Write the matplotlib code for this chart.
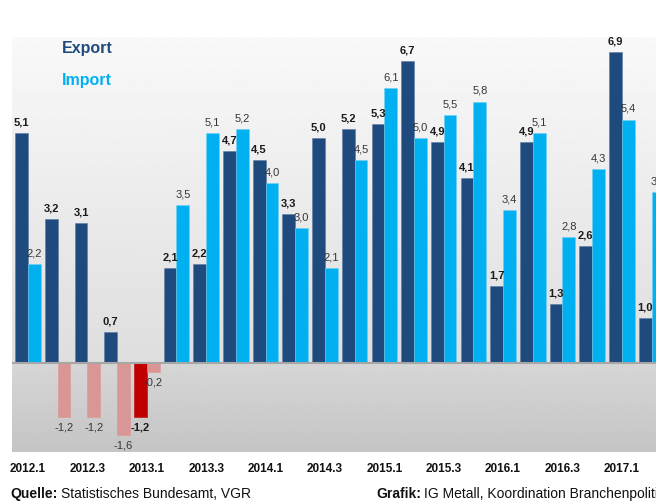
import matplotlib
matplotlib.use("Agg")
import matplotlib.pyplot as plt
import numpy as np

plt.rcParams['font.family'] = ['Liberation Sans', 'DejaVu Sans']

quarters = ["2012.1", "2012.2", "2012.3", "2012.4", "2013.1", "2013.2", "2013.3", "2013.4",
            "2014.1", "2014.2", "2014.3", "2014.4", "2015.1", "2015.2", "2015.3", "2015.4",
            "2016.1", "2016.2", "2016.3", "2016.4", "2017.1", "2017.2"]
export_vals = [5.1, 3.2, 3.1, 0.7, -1.2, 2.1, 2.2, 4.7, 4.5, 3.3, 5.0, 5.2,
               5.3, 6.7, 4.9, 4.1, 1.7, 4.9, 1.3, 2.6, 6.9, 1.0]
import_vals = [2.2, -1.2, -1.2, -1.6, -0.2, 3.5, 5.1, 5.2, 4.0, 3.0, 2.1, 4.5,
               6.1, 5.0, 5.5, 5.8, 3.4, 5.1, 2.8, 4.3, 5.4, 3.8]
tick_labels = quarters[::2]

C_EXP = '#1F4A7E'
C_IMP = '#00B0F0'
C_EXP_NEG = '#C00000'
C_IMP_NEG = '#DA9694'

W, H = 656, 501
fig = plt.figure(figsize=(W / 100, H / 100), dpi=100)
ax = fig.add_axes([12 / W, (H - 452) / H, (W - 12) / W, (452 - 37) / H])

xmin, xmax = -0.54, 21.15
ymin, ymax = -1.97, 7.23
ax.set_xlim(xmin, xmax)
ax.set_ylim(ymin, ymax)

# background gradient
n = 400
ys = np.linspace(ymax, ymin, n)
vals = np.where(ys >= 0,
                0.975 - (ymax - ys) / ymax * (0.975 - 0.87),
                0.84 - (-ys) / (-ymin) * (0.84 - 0.77))
grad = np.repeat(vals[:, None], 2, axis=1)
ax.imshow(grad, cmap='gray', vmin=0, vmax=1, aspect='auto',
          extent=(xmin, xmax, ymin, ymax), zorder=0, interpolation='bilinear')

bw = 0.43
x = np.arange(len(quarters))
exp_colors = [C_EXP if v >= 0 else C_EXP_NEG for v in export_vals]
imp_colors = [C_IMP if v >= 0 else C_IMP_NEG for v in import_vals]
exp_edges = ['#5a7aa3' if v >= 0 else C_EXP_NEG for v in export_vals]
imp_edges = ['#6fd0f5' if v >= 0 else C_IMP_NEG for v in import_vals]
ax.bar(x - bw / 2, export_vals, width=bw, color=exp_colors, zorder=2,
       edgecolor=exp_edges, linewidth=0.4)
ax.bar(x + bw / 2, import_vals, width=bw, color=imp_colors, zorder=2,
       edgecolor=imp_edges, linewidth=0.4)
ax.axhline(0, color='#A6A6A6', lw=1.5, zorder=3)

def fmt(v):
    return f"{v:.1f}".replace('.', ',')

for xi, v in zip(x, export_vals):
    up = v >= 0
    ax.annotate(fmt(v), (xi - bw / 2, v), xytext=(0, 4 if up else -4), textcoords='offset points',
                ha='center', va='bottom' if up else 'top', fontsize=8, fontweight='bold',
                color='#1a1a1a', annotation_clip=False, zorder=4)
for xi, v in zip(x, import_vals):
    up = v >= 0
    ax.annotate(fmt(v), (xi + bw / 2, v), xytext=(0, 4 if up else -4), textcoords='offset points',
                ha='center', va='bottom' if up else 'top', fontsize=8,
                color='#363636', annotation_clip=False, zorder=4)

ax.set_xticks(x[::2])
ax.set_xticklabels(tick_labels, fontsize=8.5, fontweight='bold', color='#111111')
ax.tick_params(axis='x', length=0, pad=8)
ax.set_yticks([])
for s in ax.spines.values():
    s.set_visible(False)

# legend texts
fig.text(62 / W, 1 - 49 / H, "Export", fontsize=11.5, fontweight='bold', color=C_EXP,
         ha='left', va='center')
fig.text(62 / W, 1 - 80 / H, "Import", fontsize=11.5, fontweight='bold', color=C_IMP,
         ha='left', va='center')

# cut-off title at top
fig.text(118 / W, 1 + 9 / H, "(Veränderung gegenüber Vorjahresquartal in %)", fontsize=10,
         color='#666666', ha='left', va='center')

# footer
renderer = fig.canvas.get_renderer()

def two_part(x0, y0, bold, rest, size=10):
    t = fig.text(x0 / W, 1 - y0 / H, bold, fontsize=size, fontweight='bold', color='#111111',
                 ha='left', va='center')
    bb = t.get_window_extent(renderer=renderer)
    fig.text((bb.x1 + 3.5) / W, 1 - y0 / H, rest, fontsize=size, color='#111111',
             ha='left', va='center')

two_part(10, 494, "Quelle:", "Statistisches Bundesamt, VGR")
two_part(376, 494, "Grafik:", "IG Metall, Koordination Branchenpolitik")

fig.savefig("out.png", dpi=100)
